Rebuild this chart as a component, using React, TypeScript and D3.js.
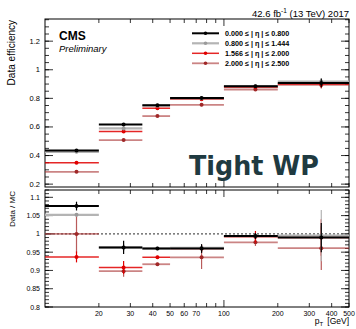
import * as d3 from "d3";

const binEdges = [10, 20, 35, 50, 100, 200, 500];
const binCenters = [15, 27.5, 42.5, 75, 150, 350];

const seriesLabels = [
  "0.000 \u2264 | \u03b7 | \u2264 0.800",
  "0.800 \u2264 | \u03b7 | \u2264 1.444",
  "1.566 \u2264 | \u03b7 | \u2264 2.000",
  "2.000 \u2264 | \u03b7 | \u2264 2.500",
];

// data efficiency per eta bin
const effBlack = [0.435, 0.617, 0.752, 0.803, 0.885, 0.908];
const effGray = [0.426, 0.59, 0.748, 0.8, 0.885, 0.918];
const effRed = [0.349, 0.568, 0.731, 0.794, 0.878, 0.9];
const effDarkRed = [0.286, 0.508, 0.676, 0.755, 0.862, 0.894];

const effErrBlack = [0.008, 0.008, 0.005, 0.006, 0.008, 0.03];
const effErrGray = [0.005, 0.005, 0.005, 0.005, 0.008, 0.02];
const effErrRed = [0.006, 0.006, 0.005, 0.006, 0.01, 0.025];
const effErrDarkRed = [0.008, 0.008, 0.006, 0.01, 0.01, 0.025];

// data / MC scale factors
const sfBlack = [1.076, 0.963, 0.96, 0.96, 0.994, 0.99];
const sfGray = [1.052, 0.963, 0.96, 0.962, 0.994, 0.995];
const sfRed = [0.937, 0.908, 0.936, 0.96, 0.992, 0.99];
const sfDarkRed = [1.0, 0.898, 0.917, 0.936, 0.977, 0.961];

const sfErrBlack = [0.012, 0.018, 0.003, 0.012, 0.008, 0.04];
const sfErrGray = [0.005, 0.01, 0.003, 0.006, 0.006, 0.07];
const sfErrRed = [0.015, 0.018, 0.004, 0.01, 0.016, 0.05];
const sfErrDarkRed = [0.052, 0.015, 0.004, 0.032, 0.01, 0.06];

const xMajorLabels = [20, 30, 40, 50, 60, 70, 100, 200, 300, 400, 500];
const xTicks = [20, 30, 40, 50, 60, 70, 80, 90, 100, 200, 300, 400, 500];
const effTickLabels = [0.2, 0.4, 0.6, 0.8, 1, 1.2];
const sfTickLabels = [0.8, 0.85, 0.9, 0.95, 1, 1.05, 1.1];

const styles = [
  { color: "#000000", marker: "#000000", width: 2, opacity: 1 },
  { color: "#b4b4b4", marker: "#9a9a9a", width: 2.2, opacity: 1 },
  { color: "#e00000", marker: "#e00000", width: 1.5, opacity: 0.85 },
  { color: "#a83232", marker: "#a02828", width: 1.8, opacity: 0.6 },
];

const font = "'Liberation Sans', Arial, sans-serif";
const L = 45;
const R = 349;

export default function App() {
  const x = d3.scaleLog().domain([10, 500]).range([L, R]);
  const yTop = d3.scaleLinear().domain([0.18, 1.355]).range([187, 19]);
  const yBot = d3.scaleLinear().domain([0.8, 1.12]).range([307, 190]);

  const effSeries = [
    { v: effBlack, e: effErrBlack },
    { v: effGray, e: effErrGray },
    { v: effRed, e: effErrRed },
    { v: effDarkRed, e: effErrDarkRed },
  ];
  const sfSeries = [
    { v: sfBlack, e: sfErrBlack },
    { v: sfGray, e: sfErrGray },
    { v: sfRed, e: sfErrRed },
    { v: sfDarkRed, e: sfErrDarkRed },
  ];

  const drawSeries = (
    series: { v: number[]; e: number[] }[],
    y: d3.ScaleLinear<number, number>,
    key: string
  ) =>
    series
      .map((s, si) => ({ s, si }))
      .reverse()
      .map(({ s, si }) => {
        const st = styles[si];
        return (
          <g key={key + si}>
            {s.v.map((v, i) => (
              <g key={i}>
                <line
                  x1={x(binEdges[i])}
                  x2={x(binEdges[i + 1])}
                  y1={y(v)}
                  y2={y(v)}
                  stroke={st.color}
                  strokeWidth={st.width}
                  strokeOpacity={st.opacity}
                />
                <line
                  x1={x(binCenters[i])}
                  x2={x(binCenters[i])}
                  y1={y(v - s.e[i])}
                  y2={y(v + s.e[i])}
                  stroke={st.color}
                  strokeWidth={1.2}
                  strokeOpacity={Math.min(1, st.opacity + 0.2)}
                />
                <circle cx={x(binCenters[i])} cy={y(v)} r={2} fill={st.marker} />
              </g>
            ))}
          </g>
        );
      });

  const frameTicks = (
    y: d3.ScaleLinear<number, number>,
    minors: number[],
    majors: number[],
    key: string
  ) => {
    const [y0, y1] = y.range();
    return (
      <g key={key} stroke="#000" strokeWidth={0.8}>
        {minors.map((t, i) => (
          <g key={"m" + i}>
            <line x1={L} x2={L + 4} y1={y(t)} y2={y(t)} />
            <line x1={R} x2={R - 4} y1={y(t)} y2={y(t)} />
          </g>
        ))}
        {majors.map((t, i) => (
          <g key={"M" + i}>
            <line x1={L} x2={L + 8} y1={y(t)} y2={y(t)} />
            <line x1={R} x2={R - 8} y1={y(t)} y2={y(t)} />
          </g>
        ))}
        {xTicks.map((t, i) => {
          const len = t === 100 ? 7 : 4;
          return (
            <g key={"x" + i}>
              <line x1={x(t)} x2={x(t)} y1={y0} y2={y0 - len} />
              <line x1={x(t)} x2={x(t)} y1={y1} y2={y1 + len} />
            </g>
          );
        })}
        <rect x={L} y={y1} width={R - L} height={y0 - y1} fill="none" strokeWidth={1} />
      </g>
    );
  };

  const effMinors = d3.range(0.2, 1.36, 0.05).map((d) => +d.toFixed(2));
  const sfMinors = d3.range(0.8, 1.121, 0.01).map((d) => +d.toFixed(2));

  return (
    <svg
      width={356}
      height={329}
      style={{ position: "absolute", left: 0, top: 0, background: "#fff" }}
      fontFamily={font}
    >
      <rect width={356} height={329} fill="#fff" />

      {frameTicks(yTop, effMinors, effTickLabels, "top")}
      {frameTicks(yBot, sfMinors, sfTickLabels, "bot")}

      {effTickLabels.map((t) => (
        <text key={t} x={40} y={yTop(t) + 2.5} fontSize={7.5} textAnchor="end">
          {t}
        </text>
      ))}
      {sfTickLabels.map((t) => (
        <text key={t} x={40} y={yBot(t) + 2.5} fontSize={7} textAnchor="end">
          {t}
        </text>
      ))}
      {xMajorLabels.map((t) => (
        <text key={t} x={x(t)} y={316} fontSize={7} textAnchor="middle">
          {t}
        </text>
      ))}

      <line
        x1={L}
        x2={R}
        y1={yBot(1)}
        y2={yBot(1)}
        stroke="#555"
        strokeWidth={1.4}
        strokeDasharray="2,2"
      />

      {drawSeries(effSeries, yTop, "eff")}
      {drawSeries(sfSeries, yBot, "sf")}

      {/* legend */}
      {seriesLabels.map((lab, i) => {
        const st = styles[i];
        const yy = 33.3 + i * 10;
        return (
          <g key={lab}>
            <line
              x1={192}
              x2={219}
              y1={yy}
              y2={yy}
              stroke={st.color}
              strokeWidth={st.width}
              strokeOpacity={st.opacity}
            />
            <circle cx={205.5} cy={yy} r={1.8} fill={st.marker} />
            <text x={225} y={yy + 2.6} fontSize={7.2} fontWeight="bold">
              {lab}
            </text>
          </g>
        );
      })}

      <text x={59} y={40} fontSize={12} fontWeight="bold">
        CMS
      </text>
      <text x={59} y={52} fontSize={9.5} fontStyle="italic">
        Preliminary
      </text>

      <text x={349} y={16.5} fontSize={9.5} textAnchor="end">
        42.6 fb<tspan dy={-3.5} fontSize={6.5}>-1</tspan>
        <tspan dy={3.5}> (13 TeV) 2017</tspan>
      </text>

      <text
        transform="translate(15,20) rotate(-90)"
        fontSize={10}
        textAnchor="end"
      >
        Data efficiency
      </text>
      <text
        transform="translate(15,191) rotate(-90)"
        fontSize={8}
        textAnchor="end"
      >
        Data / MC
      </text>

      <text x={349} y={324} fontSize={8.5} textAnchor="end">
        p<tspan dy={2} fontSize={6}>T</tspan>
        <tspan dy={-2} dx={4}>[GeV]</tspan>
      </text>

      <text
        x={189}
        y={175}
        fontSize={27}
        fontWeight="bold"
        fill="#1f3a41"
        fontFamily="'DejaVu Sans', sans-serif"
        textLength={130}
        lengthAdjust="spacingAndGlyphs"
      >
        Tight WP
      </text>
    </svg>
  );
}
